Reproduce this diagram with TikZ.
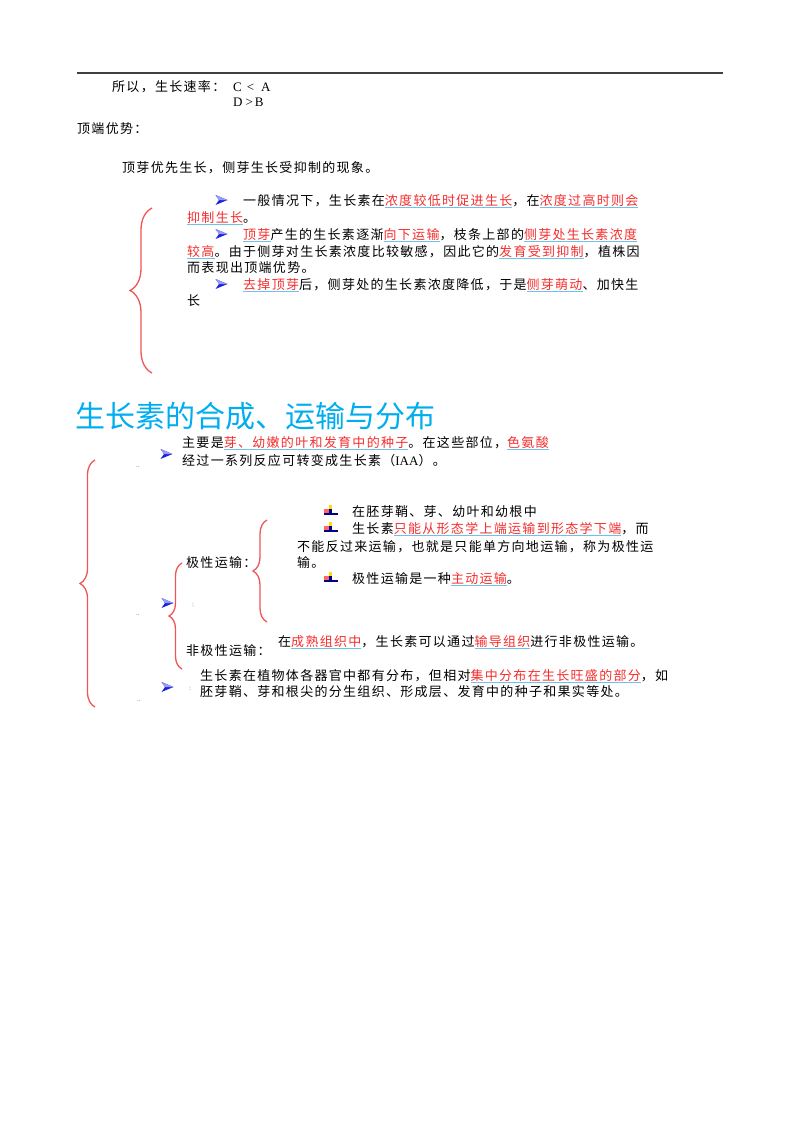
\documentclass[tikz,border=0pt]{standalone}
\usepackage{fontspec}
\setmainfont{Liberation Serif}
\newfontfamily\cjk[LetterSpace=10]{Noto Sans CJK SC}
\newfontfamily\cjkhead{Noto Sans CJK SC}
\usepackage{tikz}
\usetikzlibrary{decorations.pathreplacing}

\definecolor{hlred}{RGB}{245,45,45}
\definecolor{ulblue}{RGB}{105,195,235}
\definecolor{bracered}{RGB}{238,85,85}
\definecolor{titleblue}{RGB}{0,174,239}
\definecolor{arrowblue}{RGB}{25,35,225}

%% red text with a light blue line under it
\newcommand\hl[1]{\setbox0=\hbox{#1}\rlap{\color{ulblue}\rule[-3pt]{\wd0}{0.9pt}}\textcolor{hlred}{\box0}}

\tikzset{
  txt/.style={anchor=base west, inner sep=0pt, font=\cjk\fontsize{13pt}{15pt}\selectfont},
  lat/.style={anchor=base west, inner sep=0pt, font=\rmfamily\fontsize{13pt}{15pt}\selectfont},
  dots/.style={anchor=base west, inner sep=0pt, text=black!55, font=\rmfamily\fontsize{7pt}{7pt}\selectfont},
  brc/.style={draw=bracered, line width=1.3pt, decorate, decoration={brace, amplitude=#1}},
  bularrow/.pic={
    \fill[arrowblue] (-5.5,-5) -- (6.5,0) -- (-5.5,5) -- (-2,0) -- cycle;
    \fill[arrowblue!45] (-5.5,-5) -- (6.5,0) -- (-2,0) -- cycle;
  },
  bulicon/.pic={
    \fill[yellow!80!orange] (-1.5,-6.5) rectangle (2,-1);
    \fill[red!60] (-6.5,-2.5) rectangle (-1.5,2);
    \fill[blue!50!black] (-1,-2) rectangle (1.5,2.5);
    \fill[blue!55!black] (-6.5,2) rectangle (7.5,4);
  },
}

\begin{document}
\begin{tikzpicture}[x=1pt, y=-1pt]

  \useasboundingbox (0,0) rectangle (800,1132);

  \draw[line width=1.2pt, black!75] (77,73) -- (723,73); %% top rule

  %% growth rate
  \node[txt] (rate) at (112,91) {所以，生长速率：};
  \node[lat] (rca) at (233,91) {C\hspace{5pt}<\hspace{7pt}A};
  \node[lat] (rdb) at (233,106) {D\hspace{3pt}>\hspace{2pt}B};

  %% apical dominance
  \node[txt] (apex) at (77,133) {顶端优势：};
  \node[txt] (apexdef) at (122,172) {顶芽优先生长，侧芽生长受抑制的现象。};

  \path (221,200) pic {bularrow};
  \node[txt] (ap1) at (243,205) {一般情况下，生长素在\hl{浓度较低时促进生长}，在\hl{浓度过高时则会}};
  \node[txt] (ap1b) at (187,222) {\hl{抑制生长}。};
  \path (221,234) pic {bularrow};
  \node[txt] (ap2) at (243,239) {\hl{顶芽}产生的生长素逐渐\hl{向下运输}，枝条上部的\hl{侧芽处生长素浓度}};
  \node[txt] (ap2b) at (187,256) {\hl{较高}。由于侧芽对生长素浓度比较敏感，因此它的\hl{发育受到抑制}，植株因};
  \node[txt] (ap2c) at (187,272) {而表现出顶端优势。};
  \path (221,284) pic {bularrow};
  \node[txt] (ap3) at (243,289) {\hl{去掉顶芽}后，侧芽处的生长素浓度降低，于是\hl{侧芽萌动}、加快生};
  \node[txt] (ap3b) at (187,305) {长};

  \draw[brc=22] (152,373) -- (152,208); %% apex brace

  %% section title
  \node[anchor=base west, inner sep=0pt, text=titleblue,
        font=\cjkhead\fontsize{30pt}{32pt}\selectfont] (title) at (75,427) {生长素的合成、运输与分布};

  %% synthesis
  \path (166,454) pic {bularrow};
  \node[txt] (syn1) at (182,447) {主要是\hl{芽、幼嫩的叶和发育中的种子}。在这些部位，\hl{色氨酸}};
  \node[txt] (syn2) at (182,465) {经过一系列反应可转变成生长素（{\rmfamily IAA}）。};
  \node[dots] (d1) at (136,467) {..};

  %% transport
  \path (167,603) pic {bularrow};
  \node[dots] (c1) at (192,606) {:};
  \node[dots] (d2) at (136,615) {..};
  \node[txt] (polar) at (186,567) {极性运输：};
  \node[txt] (npolar) at (186,655) {非极性运输：};

  \path (330,511) pic {bulicon};
  \node[txt] (po1) at (352,516) {在胚芽鞘、芽、幼叶和幼根中};
  \path (330,528) pic {bulicon};
  \node[txt] (po2) at (352,533) {生长素\hl{只能从形态学上端运输到形态学下端}，而};
  \node[txt] (po2b) at (297,551) {不能反过来运输，也就是只能单方向地运输，称为极性运};
  \node[txt] (po2c) at (297,567) {输。};
  \path (330,578) pic {bulicon};
  \node[txt] (po3) at (352,583) {极性运输是一种\hl{主动运输}。};

  \node[txt] (np1) at (278,646) {在\hl{成熟组织中}，生长素可以通过\hl{输导组织}进行非极性运输。};

  %% distribution
  \path (167,687) pic {bularrow};
  \node[dots] (c2) at (189,690) {:};
  \node[dots] (d3) at (137,701) {..};
  \node[txt] (di1) at (200,680) {生长素在植物体各器官中都有分布，但相对\hl{集中分布在生长旺盛的部分}，如};
  \node[txt] (di2) at (200,696) {胚芽鞘、芽和根尖的分生组织、形成层、发育中的种子和果实等处。};

  \draw[brc=14] (267,622) -- (267,520); %% polar brace
  \draw[brc=13] (182,669) -- (182,563); %% transport brace
  \draw[brc=15] (95,707) -- (95,460);   %% section brace

\end{tikzpicture}
\end{document}
